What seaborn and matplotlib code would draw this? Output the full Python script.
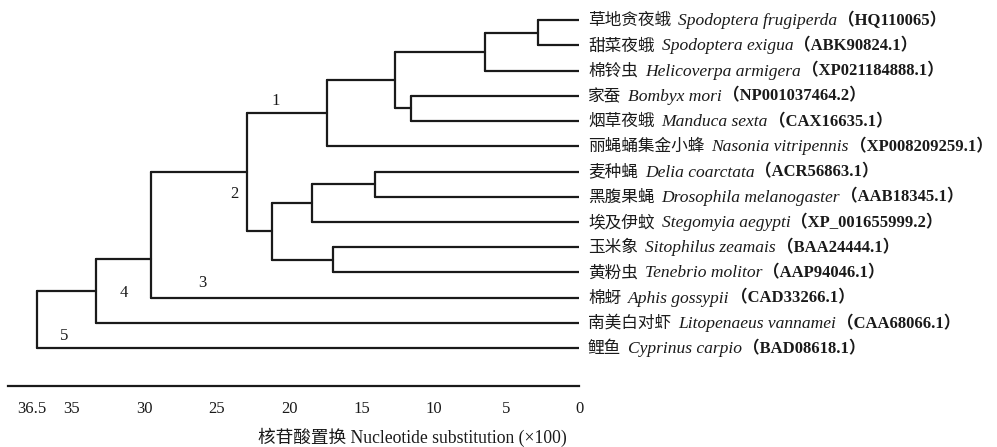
import matplotlib
matplotlib.use('Agg')
import pandas as pd
import matplotlib.pyplot as plt
import seaborn as sns

# leaves, top to bottom
cn_names = ['草地贪夜蛾', '甜菜夜蛾', '棉铃虫', '家蚕', '烟草夜蛾', '丽蝇蛹集金小蜂', '麦种蝇',
            '黑腹果蝇', '埃及伊蚊', '玉米象', '黄粉虫', '棉蚜', '南美白对虾', '鲤鱼']
latin_names = ['Spodoptera frugiperda', 'Spodoptera exigua', 'Helicoverpa armigera', 'Bombyx mori',
               'Manduca sexta', 'Nasonia vitripennis', 'Delia coarctata', 'Drosophila melanogaster',
               'Stegomyia aegypti', 'Sitophilus zeamais', 'Tenebrio molitor', 'Aphis gossypii',
               'Litopenaeus vannamei', 'Cyprinus carpio']
accessions = ['HQ110065', 'ABK90824.1', 'XP021184888.1', 'NP001037464.2', 'CAX16635.1',
              'XP008209259.1', 'ACR56863.1', 'AAB18345.1', 'XP_001655999.2', 'BAA24444.1',
              'AAP94046.1', 'CAD33266.1', 'CAA68066.1', 'BAD08618.1']

# internal nodes: name, child 1, child 2, distance
node_names = ['A', 'B', 'C', 'D', 'E', 'F', 'G', 'H', 'I', 'J', 'K', 'L', 'M']
node_child1 = [0, 'A', 3, 'B', 'D', 6, 'F', 9, 'G', 'E', 'J', 'K', 'L']
node_child2 = [1, 2, 4, 'C', 5, 7, 8, 10, 'H', 'I', 11, 12, 13]
node_dist = [2.8, 6.5, 11.6, 12.7, 17.4, 14.1, 18.4, 17.0, 21.2, 22.9, 29.5, 33.3, 37.4]
row_override = {'K': 9.47}  # this junction is not drawn at the midpoint

# cluster numbers on the branches
clade_labels = ['1', '2', '3', '4', '5']
clade_x = [20.9, 23.8, 26.0, 31.4, 35.5]
clade_row = [3.2, 6.9, 10.4, 10.8, 12.5]

tick_values = [37.75, 35, 30, 25, 20, 15, 10, 5, 0]
tick_labels = ['36.5', '35', '30', '25', '20', '15', '10', '5', '0']
xlabel = '核苷酸置换 Nucleotide substitution (×100)'

fam = ['Liberation Serif', 'Noto Sans CJK SC', 'DejaVu Sans']

# positions of every node
dist = {i: 0.0 for i in range(len(cn_names))}
row = {i: float(i) for i in range(len(cn_names))}
for n, c1, c2, d in zip(node_names, node_child1, node_child2, node_dist):
    dist[n] = d
    row[n] = row_override.get(n, (row[c1] + row[c2]) / 2)

# elbow segments
segs = []
k = 0
for n, c1, c2 in zip(node_names, node_child1, node_child2):
    segs += [(k, dist[n], row[c1]), (k, dist[n], row[c2])]
    k += 1
    for c in (c1, c2):
        segs += [(k, dist[n], row[c]), (k, dist[c], row[c])]
        k += 1
df = pd.DataFrame(segs, columns=['seg', 'x', 'y'])

sns.set_style('white')
plt.rcParams['font.family'] = fam

fig = plt.figure(figsize=(9.97, 4.47), dpi=100)
ax = fig.add_axes([8 / 997, 1 - 386 / 447, 571 / 997, 376 / 447])
sns.lineplot(data=df, x='x', y='y', units='seg', estimator=None, sort=False,
             color='#1a1a1a', linewidth=1.6, legend=False, ax=ax)
ax.set_xlim(39.4, 0)
ax.set_ylim(14.5, -0.4)

for s in ['top', 'right', 'left']:
    ax.spines[s].set_visible(False)
ax.spines['bottom'].set_linewidth(1.6)
ax.spines['bottom'].set_color('#1a1a1a')
ax.set_yticks([])
ax.set_xticks(tick_values)
ax.set_xticklabels(tick_labels, fontsize=12)
ax.tick_params(axis='x', direction='out', length=6, width=1.6, pad=5, colors='#1a1a1a')
ax.xaxis.get_major_ticks()[0].tick1line.set_visible(False)
ax.set_xlabel('')
ax.set_ylabel('')
ax.text((412 - 8) / 571, (386 - 437) / 376, xlabel, transform=ax.transAxes,
        ha='center', va='center', fontsize=12.7, color='#1a1a1a')

# leaf labels: Chinese name, italic Latin name, bold accession
renderer = fig.canvas.get_renderer()
for i in range(len(cn_names)):
    xoff = 9
    pieces = [(cn_names[i], 'normal', 'normal', 12, 7),
              (latin_names[i], 'italic', 'normal', 12.6, 1),
              ('（' + accessions[i] + '）', 'normal', 'bold', 12, 0)]
    for txt, st, wt, fs, gap in pieces:
        t = ax.annotate(txt, xy=(0, row[i]), xycoords='data', xytext=(xoff, -5),
                        textcoords='offset pixels', ha='left', va='baseline',
                        fontsize=fs, style=st, weight=wt, color='#1a1a1a',
                        annotation_clip=False)
        xoff += t.get_window_extent(renderer).width + gap

for lab, x, r in zip(clade_labels, clade_x, clade_row):
    ax.text(x, r, lab, ha='center', va='center', fontsize=12, color='#1a1a1a')

fig.savefig('out.png', dpi=100)
